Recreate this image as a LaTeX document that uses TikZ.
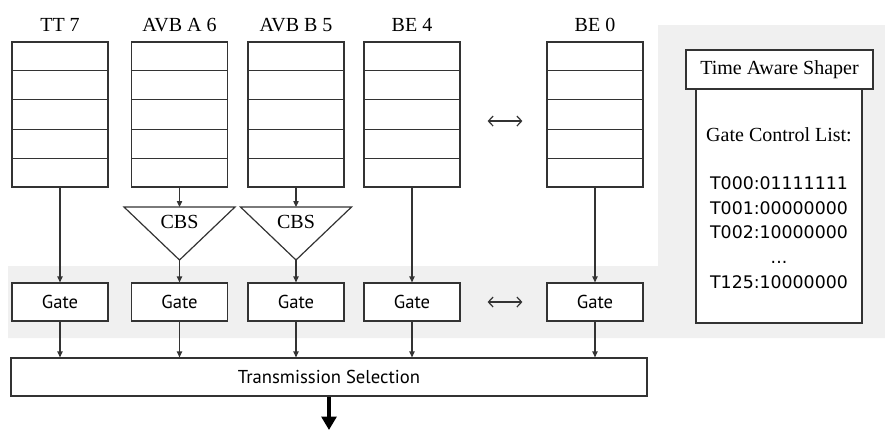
\documentclass[tikz,border=0pt]{standalone}
\usepackage{fontspec}
\setmainfont{Liberation Serif}
\newfontfamily\gatefont{PT Sans}
\newfontfamily\listfont{DejaVu Sans}
\usetikzlibrary{arrows.meta,calc}

\tikzset{every picture/.style={line width=0.9pt}}
\tikzset{
  queue/.style={draw=black!80, fill=white, minimum width=72pt, minimum height=108.75pt, inner sep=0pt},
  gatebox/.style={draw=black!80, fill=white, minimum width=72pt, minimum height=28.5pt, inner sep=0pt, font=\gatefont\fontsize{14}{16}\selectfont},
  title/.style={font=\fontsize{15}{17}\selectfont, inner sep=0pt},
  feed/.style={draw=black!80, -{Triangle[length=4.5pt,width=4pt]}},
  swap/.style={draw=black!80, {Straight Barb[length=3.5pt,width=7.5pt]}-{Straight Barb[length=3.5pt,width=7.5pt]}},
}

\begin{document}
\begin{tikzpicture}[x=0.75pt,y=0.75pt,yscale=-1,xscale=1]
	\useasboundingbox (0,0) rectangle (885,430);

	%Shape: grey panel behind gates and shaper
	\fill [black!6] (8,266) -- (658,266) -- (658,25) -- (885,25) -- (885,338) -- (8,338) -- cycle ;

	%Queues with five slots each
	\foreach \name/\x/\lbl in {q7/60/TT 7, q6/179.5/AVB A 6, q5/296/AVB B 5, q4/412/BE 4, q0/595/BE 0}{
		\node [queue] (\name) at (\x,114.5) {};
		\foreach \k in {1,...,4}
			\draw [black!80] ($(\name.north west)!\k/5!(\name.south west)$) -- ($(\name.north east)!\k/5!(\name.south east)$) ;
		\node [title] (\name-lbl) at (\x,25) {\lbl};
	}

	%Shape: credit based shapers
	\foreach \name/\x in {cbs6/179.5, cbs5/296}{
		\draw [black!80] (\x-55.5,207) -- (\x+55.5,207) -- (\x,260) -- cycle ;
		\coordinate (\name-in) at (\x,207) ;
		\coordinate (\name-out) at (\x,260) ;
		\node [title] (\name) at (\x,222) {CBS};
	}

	%Gates
	\foreach \name/\x in {g7/60, g6/179.5, g5/296, g4/412, g0/595}
		\node [gatebox] (\name) at (\x,302) {Gate};

	% Text Node
	\node [gatebox, minimum width=477pt] (ts) at (329,377) {Transmission Selection};

	%Straight Lines: queue to gate
	\draw [feed] (q7) -- (g7) ;
	\draw [feed] (q6) -- (cbs6-in) ;
	\draw [feed] (cbs6-out) -- (g6) ;
	\draw [feed] (q5) -- (cbs5-in) ;
	\draw [feed] (cbs5-out) -- (g5) ;
	\draw [feed] (q4) -- (g4) ;
	\draw [feed] (q0) -- (g0) ;
	%Straight Lines: gate to selection
	\foreach \g in {g7,g6,g5,g4,g0}
		\draw [feed] (\g) -- (\g |- ts.north) ;

	%Straight Lines: more queues in between
	\draw [swap, shorten <=20.25pt, shorten >=18pt] ([yshift=4.9pt]q4.east) -- ([yshift=4.9pt]q0.west) ;
	\draw [swap, shorten <=20.25pt, shorten >=18pt] (g4) -- (g0) ;

	%Straight Lines: output
	\coordinate (out) at (329,430) ;
	\draw [line width=3pt, -{Triangle[length=10pt,width=11pt]}] (ts) -- (out) ;

	%Shape: gate control list
	\node [draw=black!80, fill=white, minimum width=124.5pt, minimum height=175.5pt, inner sep=0pt] (gcl) at (779,206) {};
	\node [draw=black!80, fill=white, minimum width=140.25pt, minimum height=29.25pt, title] (tas) at (779.5,69.5) {Time Aware Shaper};
	% Text Node
	\node [title] (gcl-head) at (779,135) {Gate Control List:};
	% Text Node
	\node [font=\listfont\fontsize{13}{18.5}\selectfont, align=center, inner sep=0pt] (gcl-rows) at (779,232.5) {T000:01111111\\T001:00000000\\T002:10000000\\...\\T125:10000000};

\end{tikzpicture}
\end{document}
